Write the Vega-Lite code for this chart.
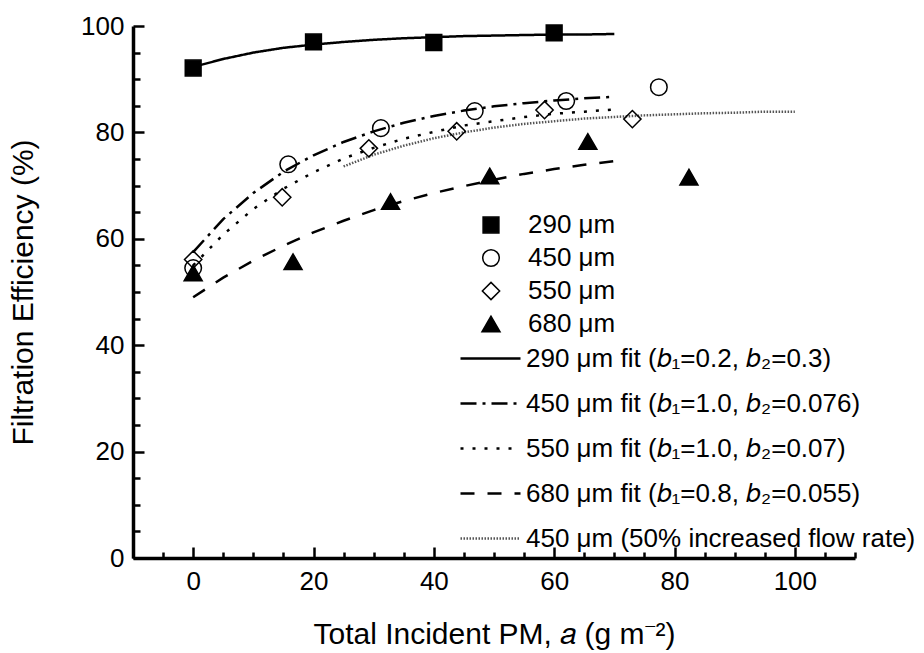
{
  "$schema": "https://vega.github.io/schema/vega-lite/v6.json",
  "width": 722,
  "height": 532,
  "autosize": {"type": "none"},
  "padding": {"left": 133, "top": 26, "right": 69, "bottom": 95},
  "background": "white",
  "config": {
    "view": {"stroke": null},
    "font": "Liberation Sans",
    "axis": {
      "domainColor": "black",
      "domainWidth": 3.5,
      "tickColor": "black",
      "tickWidth": 2.5,
      "grid": false,
      "labelFont": "Liberation Sans",
      "labelFontSize": 26,
      "labelColor": "black",
      "titleFont": "Liberation Sans",
      "titleFontSize": 30,
      "titleFontWeight": "normal",
      "titleColor": "black"
    },
    "legend": {
      "labelFont": "Liberation Sans",
      "labelFontSize": 26,
      "labelColor": "black",
      "labelLimit": 600,
      "padding": 0,
      "title": null
    }
  },
  "datasets": {
    "points": [
      {"series": "290 μm", "a": 0, "eff": 92.1},
      {"series": "290 μm", "a": 20, "eff": 97.0},
      {"series": "290 μm", "a": 40, "eff": 96.9},
      {"series": "290 μm", "a": 60, "eff": 98.7},
      {"series": "450 μm", "a": 0, "eff": 54.5},
      {"series": "450 μm", "a": 15.8, "eff": 74.0},
      {"series": "450 μm", "a": 31.2, "eff": 80.8},
      {"series": "450 μm", "a": 46.8, "eff": 84.0},
      {"series": "450 μm", "a": 62.0, "eff": 85.9},
      {"series": "450 μm", "a": 77.4, "eff": 88.5},
      {"series": "550 μm", "a": 0, "eff": 56.1},
      {"series": "550 μm", "a": 14.8, "eff": 67.8},
      {"series": "550 μm", "a": 29.2, "eff": 77.0},
      {"series": "550 μm", "a": 43.8, "eff": 80.2},
      {"series": "550 μm", "a": 58.4, "eff": 84.2},
      {"series": "550 μm", "a": 73.0, "eff": 82.5},
      {"series": "680 μm", "a": 0, "eff": 53.6},
      {"series": "680 μm", "a": 16.6, "eff": 55.7},
      {"series": "680 μm", "a": 32.8, "eff": 67.0},
      {"series": "680 μm", "a": 49.3, "eff": 71.8},
      {"series": "680 μm", "a": 65.6, "eff": 78.3},
      {"series": "680 μm", "a": 82.4, "eff": 71.6}
    ],
    "fits": [
      {"fit": "290 μm fit (𝑏₁=0.2, 𝑏₂=0.3)", "a": 0, "eff": 92.3},
      {"fit": "290 μm fit (𝑏₁=0.2, 𝑏₂=0.3)", "a": 5, "eff": 93.8},
      {"fit": "290 μm fit (𝑏₁=0.2, 𝑏₂=0.3)", "a": 10, "eff": 95.0},
      {"fit": "290 μm fit (𝑏₁=0.2, 𝑏₂=0.3)", "a": 15, "eff": 95.9},
      {"fit": "290 μm fit (𝑏₁=0.2, 𝑏₂=0.3)", "a": 20, "eff": 96.5},
      {"fit": "290 μm fit (𝑏₁=0.2, 𝑏₂=0.3)", "a": 25, "eff": 97.0},
      {"fit": "290 μm fit (𝑏₁=0.2, 𝑏₂=0.3)", "a": 30, "eff": 97.4},
      {"fit": "290 μm fit (𝑏₁=0.2, 𝑏₂=0.3)", "a": 35, "eff": 97.7},
      {"fit": "290 μm fit (𝑏₁=0.2, 𝑏₂=0.3)", "a": 40, "eff": 97.9},
      {"fit": "290 μm fit (𝑏₁=0.2, 𝑏₂=0.3)", "a": 45, "eff": 98.1},
      {"fit": "290 μm fit (𝑏₁=0.2, 𝑏₂=0.3)", "a": 50, "eff": 98.2},
      {"fit": "290 μm fit (𝑏₁=0.2, 𝑏₂=0.3)", "a": 55, "eff": 98.3},
      {"fit": "290 μm fit (𝑏₁=0.2, 𝑏₂=0.3)", "a": 60, "eff": 98.4},
      {"fit": "290 μm fit (𝑏₁=0.2, 𝑏₂=0.3)", "a": 65, "eff": 98.4},
      {"fit": "290 μm fit (𝑏₁=0.2, 𝑏₂=0.3)", "a": 70, "eff": 98.5},
      {"fit": "450 μm fit (𝑏₁=1.0, 𝑏₂=0.076)", "a": 0, "eff": 57.5},
      {"fit": "450 μm fit (𝑏₁=1.0, 𝑏₂=0.076)", "a": 5, "eff": 63.7},
      {"fit": "450 μm fit (𝑏₁=1.0, 𝑏₂=0.076)", "a": 10, "eff": 68.6},
      {"fit": "450 μm fit (𝑏₁=1.0, 𝑏₂=0.076)", "a": 15, "eff": 72.6},
      {"fit": "450 μm fit (𝑏₁=1.0, 𝑏₂=0.076)", "a": 20, "eff": 75.7},
      {"fit": "450 μm fit (𝑏₁=1.0, 𝑏₂=0.076)", "a": 25, "eff": 78.2},
      {"fit": "450 μm fit (𝑏₁=1.0, 𝑏₂=0.076)", "a": 30, "eff": 80.2},
      {"fit": "450 μm fit (𝑏₁=1.0, 𝑏₂=0.076)", "a": 35, "eff": 81.8},
      {"fit": "450 μm fit (𝑏₁=1.0, 𝑏₂=0.076)", "a": 40, "eff": 83.1},
      {"fit": "450 μm fit (𝑏₁=1.0, 𝑏₂=0.076)", "a": 45, "eff": 84.1},
      {"fit": "450 μm fit (𝑏₁=1.0, 𝑏₂=0.076)", "a": 50, "eff": 84.9},
      {"fit": "450 μm fit (𝑏₁=1.0, 𝑏₂=0.076)", "a": 55, "eff": 85.5},
      {"fit": "450 μm fit (𝑏₁=1.0, 𝑏₂=0.076)", "a": 60, "eff": 86.0},
      {"fit": "450 μm fit (𝑏₁=1.0, 𝑏₂=0.076)", "a": 65, "eff": 86.4},
      {"fit": "450 μm fit (𝑏₁=1.0, 𝑏₂=0.076)", "a": 70, "eff": 86.7},
      {"fit": "550 μm fit (𝑏₁=1.0, 𝑏₂=0.07)", "a": 0, "eff": 55.0},
      {"fit": "550 μm fit (𝑏₁=1.0, 𝑏₂=0.07)", "a": 5, "eff": 60.8},
      {"fit": "550 μm fit (𝑏₁=1.0, 𝑏₂=0.07)", "a": 10, "eff": 65.6},
      {"fit": "550 μm fit (𝑏₁=1.0, 𝑏₂=0.07)", "a": 15, "eff": 69.4},
      {"fit": "550 μm fit (𝑏₁=1.0, 𝑏₂=0.07)", "a": 20, "eff": 72.5},
      {"fit": "550 μm fit (𝑏₁=1.0, 𝑏₂=0.07)", "a": 25, "eff": 75.1},
      {"fit": "550 μm fit (𝑏₁=1.0, 𝑏₂=0.07)", "a": 30, "eff": 77.1},
      {"fit": "550 μm fit (𝑏₁=1.0, 𝑏₂=0.07)", "a": 35, "eff": 78.8},
      {"fit": "550 μm fit (𝑏₁=1.0, 𝑏₂=0.07)", "a": 40, "eff": 80.1},
      {"fit": "550 μm fit (𝑏₁=1.0, 𝑏₂=0.07)", "a": 45, "eff": 81.3},
      {"fit": "550 μm fit (𝑏₁=1.0, 𝑏₂=0.07)", "a": 50, "eff": 82.1},
      {"fit": "550 μm fit (𝑏₁=1.0, 𝑏₂=0.07)", "a": 55, "eff": 82.9},
      {"fit": "550 μm fit (𝑏₁=1.0, 𝑏₂=0.07)", "a": 60, "eff": 83.5},
      {"fit": "550 μm fit (𝑏₁=1.0, 𝑏₂=0.07)", "a": 65, "eff": 83.9},
      {"fit": "550 μm fit (𝑏₁=1.0, 𝑏₂=0.07)", "a": 70, "eff": 84.3},
      {"fit": "680 μm fit (𝑏₁=0.8, 𝑏₂=0.055)", "a": 0, "eff": 49.0},
      {"fit": "680 μm fit (𝑏₁=0.8, 𝑏₂=0.055)", "a": 5, "eff": 52.7},
      {"fit": "680 μm fit (𝑏₁=0.8, 𝑏₂=0.055)", "a": 10, "eff": 55.9},
      {"fit": "680 μm fit (𝑏₁=0.8, 𝑏₂=0.055)", "a": 15, "eff": 58.7},
      {"fit": "680 μm fit (𝑏₁=0.8, 𝑏₂=0.055)", "a": 20, "eff": 61.2},
      {"fit": "680 μm fit (𝑏₁=0.8, 𝑏₂=0.055)", "a": 25, "eff": 63.4},
      {"fit": "680 μm fit (𝑏₁=0.8, 𝑏₂=0.055)", "a": 30, "eff": 65.4},
      {"fit": "680 μm fit (𝑏₁=0.8, 𝑏₂=0.055)", "a": 35, "eff": 67.1},
      {"fit": "680 μm fit (𝑏₁=0.8, 𝑏₂=0.055)", "a": 40, "eff": 68.6},
      {"fit": "680 μm fit (𝑏₁=0.8, 𝑏₂=0.055)", "a": 45, "eff": 69.9},
      {"fit": "680 μm fit (𝑏₁=0.8, 𝑏₂=0.055)", "a": 50, "eff": 71.1},
      {"fit": "680 μm fit (𝑏₁=0.8, 𝑏₂=0.055)", "a": 55, "eff": 72.2},
      {"fit": "680 μm fit (𝑏₁=0.8, 𝑏₂=0.055)", "a": 60, "eff": 73.1},
      {"fit": "680 μm fit (𝑏₁=0.8, 𝑏₂=0.055)", "a": 65, "eff": 73.9},
      {"fit": "680 μm fit (𝑏₁=0.8, 𝑏₂=0.055)", "a": 70, "eff": 74.6},
      {"fit": "450 μm (50% increased flow rate)", "a": 25, "eff": 73.6},
      {"fit": "450 μm (50% increased flow rate)", "a": 30, "eff": 75.8},
      {"fit": "450 μm (50% increased flow rate)", "a": 35, "eff": 77.5},
      {"fit": "450 μm (50% increased flow rate)", "a": 40, "eff": 78.9},
      {"fit": "450 μm (50% increased flow rate)", "a": 45, "eff": 80.0},
      {"fit": "450 μm (50% increased flow rate)", "a": 50, "eff": 80.9},
      {"fit": "450 μm (50% increased flow rate)", "a": 55, "eff": 81.6},
      {"fit": "450 μm (50% increased flow rate)", "a": 60, "eff": 82.1},
      {"fit": "450 μm (50% increased flow rate)", "a": 65, "eff": 82.6},
      {"fit": "450 μm (50% increased flow rate)", "a": 70, "eff": 82.9},
      {"fit": "450 μm (50% increased flow rate)", "a": 75, "eff": 83.2},
      {"fit": "450 μm (50% increased flow rate)", "a": 80, "eff": 83.4},
      {"fit": "450 μm (50% increased flow rate)", "a": 85, "eff": 83.6},
      {"fit": "450 μm (50% increased flow rate)", "a": 90, "eff": 83.7},
      {"fit": "450 μm (50% increased flow rate)", "a": 95, "eff": 83.9},
      {"fit": "450 μm (50% increased flow rate)", "a": 100, "eff": 83.9}
    ]
  },
  "encoding": {
    "x": {
      "field": "a",
      "type": "quantitative",
      "scale": {"domain": [-10, 110], "nice": false, "zero": false},
      "axis": {
        "title": "Total Incident PM, 𝑎 (g m⁻²)",
        "values": [-10, -5, 0, 5, 10, 15, 20, 25, 30, 35, 40, 45, 50, 55, 60, 65, 70, 75, 80, 85, 90, 95, 100, 105, 110],
        "labelExpr": "(datum.value % 20 === 0 && datum.value >= 0 && datum.value <= 100) ? datum.label : ''",
        "tickSize": {"condition": {"test": "datum.value % 20 === 0", "value": -11}, "value": -6},
        "labelPadding": 21,
        "titlePadding": 25,
        "labelFlush": false
      }
    },
    "y": {
      "field": "eff",
      "type": "quantitative",
      "scale": {"domain": [0, 100], "nice": false},
      "axis": {
        "title": "Filtration Efficiency (%)",
        "values": [0, 5, 10, 15, 20, 25, 30, 35, 40, 45, 50, 55, 60, 65, 70, 75, 80, 85, 90, 95, 100],
        "labelExpr": "datum.value % 20 === 0 ? datum.label : ''",
        "tickSize": {"condition": {"test": "datum.value % 20 === 0", "value": -11}, "value": -7},
        "labelPadding": 20,
        "titlePadding": 42,
        "labelFlush": false
      }
    }
  },
  "layer": [
    {
      "data": {"name": "fits"},
      "mark": {"type": "line", "strokeCap": "butt"},
      "encoding": {
        "detail": {"field": "fit"},
        "strokeDash": {
          "field": "fit",
          "type": "nominal",
          "scale": {
            "domain": ["290 μm fit (𝑏₁=0.2, 𝑏₂=0.3)", "450 μm fit (𝑏₁=1.0, 𝑏₂=0.076)", "550 μm fit (𝑏₁=1.0, 𝑏₂=0.07)", "680 μm fit (𝑏₁=0.8, 𝑏₂=0.055)", "450 μm (50% increased flow rate)"],
            "range": [[1, 0], [16, 6, 3, 6], [3, 9], [14, 13], [1.5, 1.5]]
          },
          "legend": {
            "orient": "none",
            "legendX": 326,
            "legendY": 301,
            "symbolType": "stroke",
            "symbolSize": 3600,
            "labelOffset": 4,
            "rowPadding": -18
          }
        },
        "strokeWidth": {
          "field": "fit",
          "type": "nominal",
          "scale": {
            "domain": ["290 μm fit (𝑏₁=0.2, 𝑏₂=0.3)", "450 μm fit (𝑏₁=1.0, 𝑏₂=0.076)", "550 μm fit (𝑏₁=1.0, 𝑏₂=0.07)", "680 μm fit (𝑏₁=0.8, 𝑏₂=0.055)", "450 μm (50% increased flow rate)"],
            "range": [2.5, 2.5, 2.5, 2.5, 1]
          }
        },
        "stroke": {
          "field": "fit",
          "type": "nominal",
          "scale": {
            "domain": ["290 μm fit (𝑏₁=0.2, 𝑏₂=0.3)", "450 μm fit (𝑏₁=1.0, 𝑏₂=0.076)", "550 μm fit (𝑏₁=1.0, 𝑏₂=0.07)", "680 μm fit (𝑏₁=0.8, 𝑏₂=0.055)", "450 μm (50% increased flow rate)"],
            "range": ["black", "black", "black", "black", "#555555"]
          }
        }
      }
    },
    {
      "data": {"name": "points"},
      "mark": {"type": "point", "stroke": "black", "strokeWidth": 1.5, "opacity": 1},
      "encoding": {
        "shape": {
          "field": "series",
          "type": "nominal",
          "scale": {
            "domain": ["290 μm", "450 μm", "550 μm", "680 μm"],
            "range": ["square", "circle", "diamond", "triangle-up"]
          },
          "legend": {
            "orient": "none",
            "legendX": 345,
            "legendY": 186,
            "labelOffset": 24,
            "rowPadding": 7,
            "encode": {
              "symbols": {
                "update": {
                  "stroke": {"value": "black"},
                  "strokeWidth": {"value": 1.5}
                }
              }
            }
          }
        },
        "fill": {
          "field": "series",
          "type": "nominal",
          "scale": {
            "domain": ["290 μm", "450 μm", "550 μm", "680 μm"],
            "range": ["black", "transparent", "transparent", "black"]
          }
        },
        "size": {
          "field": "series",
          "type": "nominal",
          "scale": {
            "domain": ["290 μm", "450 μm", "550 μm", "680 μm"],
            "range": [250, 324, 460, 440]
          }
        }
      }
    }
  ]
}
